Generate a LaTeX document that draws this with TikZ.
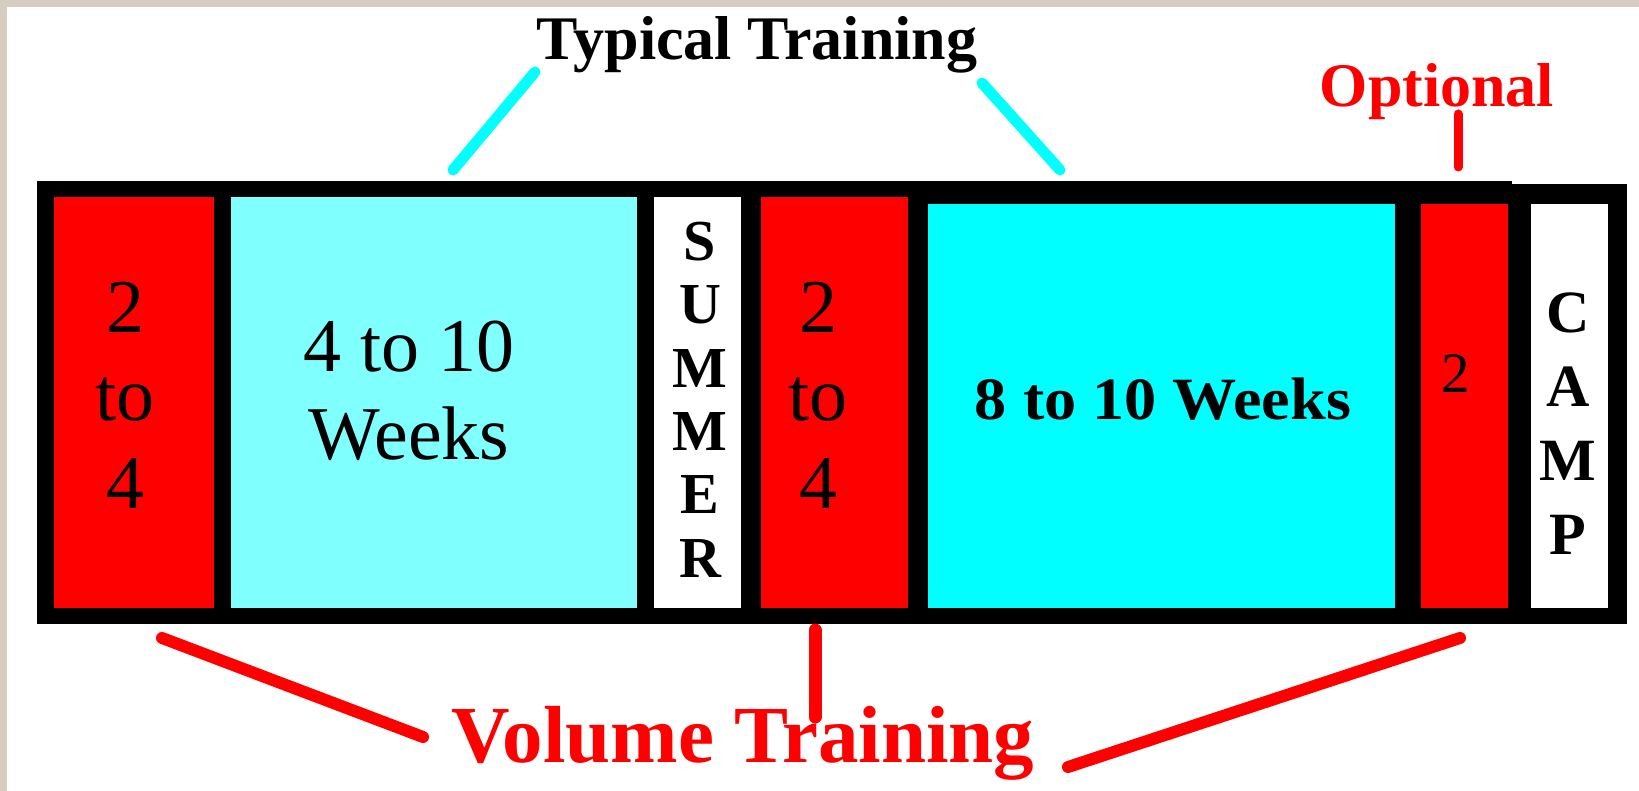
\documentclass[tikz,border=0pt]{standalone}
\usepackage{fontspec}
\setmainfont{Liberation Serif}
\usepackage{graphicx}
\definecolor{lcyan}{RGB}{128,255,255}
\definecolor{pcyan}{RGB}{0,255,255}
\definecolor{pred}{RGB}{255,0,0}
\definecolor{bgstrip}{RGB}{214,204,192}
\begin{document}
\begin{tikzpicture}[x=1pt,y=-1pt,
  cell/.style={draw=none, inner sep=0, anchor=north west},
  lbl/.style={inner sep=0, align=center},
  cline/.style={line width=11pt, draw=pcyan, line cap=round},
  rline/.style={line width=12pt, draw=pred, line cap=round}]
\useasboundingbox (0,0) rectangle (1639,791);
\fill[bgstrip] (0,0) rectangle (1639,791);
\fill[white] (7,7) rectangle (1639,791);
% frame and cells
\node[cell, fill=black, minimum width=1590, minimum height=443] (frame) at (37,181) {};
\fill[white] (1512,180) rectangle (1628,184);
\node[cell, fill=pred,  minimum width=160, minimum height=411] (r1) at (54,197) {};
\node[cell, fill=lcyan, minimum width=406, minimum height=411] (c1) at (231,197) {};
\node[cell, fill=white, minimum width=87,  minimum height=411] (s1) at (654,197) {};
\node[cell, fill=pred,  minimum width=147, minimum height=411] (r2) at (761,197) {};
\node[cell, fill=pcyan, minimum width=467, minimum height=404] (c2) at (928,204) {};
\node[cell, fill=pred,  minimum width=87,  minimum height=404] (r3) at (1421,204) {};
\node[cell, fill=white, minimum width=77,  minimum height=404] (cp) at (1531,204) {};
% cell texts
\node[lbl, font=\fontsize{76}{88}\selectfont] (t1) at (125,395) {2\\to\\4};
\node[lbl, font=\fontsize{76}{88}\selectfont] (t2) at (409,391) {4 to 10\\Weeks};
\node[lbl, font=\bfseries\fontsize{58}{63.4}\selectfont] (t3) at (700,399.5) {S\\U\\M\\M\\E\\R};
\node[lbl, font=\fontsize{76}{88}\selectfont] (t4) at (818,395) {2\\to\\4};
\node[lbl, font=\bfseries\fontsize{60}{72}\selectfont, anchor=base] (t5) at (1163,420) {\scalebox{1.07}[1]{8 to 10 Weeks}};
\node[lbl, font=\fontsize{57}{60}\selectfont, anchor=base] (t6) at (1456,393) {2};
\node[lbl, font=\bfseries\fontsize{60}{74}\selectfont] (t7) at (1568,424) {C\\A\\M\\P};
% headings
\node[lbl, font=\bfseries\fontsize{62}{72}\selectfont, anchor=base] (typ) at (757,60) {Typical Training};
\node[lbl, font=\bfseries\fontsize{62}{72}\selectfont, text=pred, anchor=base] (opt) at (1437,107) {Optional};
\node[lbl, font=\bfseries\fontsize{81}{90}\selectfont, text=pred, anchor=base] (vol) at (743,762) {Volume Training};
% connector ends
\coordinate (ta) at (535,72);
\coordinate (tb) at (453,170);
\coordinate (tc) at (982,83);
\coordinate (td) at (1060,170);
\coordinate (oa) at (1458,114);
\coordinate (ob) at (1458,167);
\coordinate (va) at (162,638);
\coordinate (vb) at (423,737);
\coordinate (vc) at (815,630);
\coordinate (vd) at (815,717);
\coordinate (ve) at (1460,638);
\coordinate (vf) at (1068,767);
% connectors
\draw[cline] (ta) -- (tb);
\draw[cline] (tc) -- (td);
\draw[rline, line width=9pt] (oa) -- (ob);
\draw[rline] (va) -- (vb);
\draw[rline, line width=13pt] (vc) -- (vd);
\draw[rline] (ve) -- (vf);
\end{tikzpicture}
\end{document}
